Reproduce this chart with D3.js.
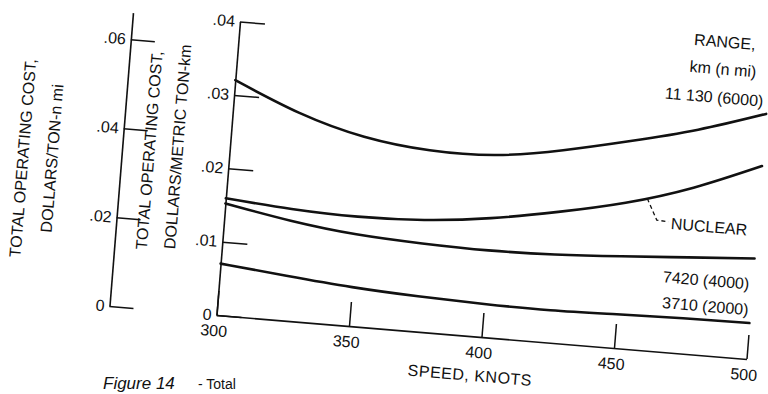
<!DOCTYPE html>
<html>
<head>
<meta charset="utf-8">
<script src="https://cdn.jsdelivr.net/npm/d3@7"></script>
<style>
  body { margin: 0; background: #fff; }
  text { font-family: "Liberation Sans", Arial, sans-serif; fill: #111; }
</style>
</head>
<body>
<div id="plot"></div>
<script>
// values (speed in knots, cost in dollars / metric ton-km)
const speeds = [300, 325, 350, 375, 400, 425, 450, 475, 500];
const range6000 = [0.0320, 0.0283, 0.0258, 0.0247, 0.0248, 0.0262, 0.0282, 0.0305, 0.0334];
const nuclear   = [0.0159, 0.0152, 0.0149, 0.0152, 0.0162, 0.0178, 0.0198, 0.0226, 0.0263];
const range4000 = [0.0152, 0.0136, 0.0125, 0.0120, 0.0118, 0.0120, 0.0125, 0.0131, 0.0137];
const range2000 = [0.0070, 0.0061, 0.0053, 0.0048, 0.0045, 0.0044, 0.0046, 0.0048, 0.0049];

const speedTicks = [300, 350, 400, 450, 500];
const costTicks = [0, 0.01, 0.02, 0.03, 0.04];
const tonNmiTicks = [0, 0.02, 0.04, 0.06];
const tonNmiMax = 0.066; // where the ton-n mi scale sits against the metric one

// curve labels: [text, speed, cost]
const curveLabels = [
  ["RANGE,", 482.4, 0.0427],
  ["km (n mi)", 482.5, 0.0390],
  ["11 130 (6000)", 480.0, 0.0351],
  ["NUCLEAR", 482.0, 0.0175],
  ["7420 (4000)", 482.5, 0.0102],
  ["3710 (2000)", 483.0, 0.0067]
];
const leader = [[458, 0.0206], [462.2, 0.0178], [466.6, 0.0177]];

const width = 768, height = 394;
const plotW = 530, plotH = 293.5;

const svg = d3.select("#plot").append("svg")
  .attr("width", width)
  .attr("height", height);

// the scan is slightly rotated, so the figure sits in a tilted frame
const g = svg.append("g")
  .attr("transform", "matrix(1,0.083,-0.0801,1,216.5,315)");

const x = d3.scaleLinear().domain([300, 500]).range([0, plotW]);
const y = d3.scaleLinear().domain([0, 0.04]).range([0, -plotH]);
const yNmi = d3.scaleLinear().domain([0, tonNmiMax]).range([0, -plotH]);

const fmtCost = d => d === 0 ? "0" : d3.format(".2f")(d).replace(/^0/, "");

function styleAxis(sel) {
  sel.select(".domain").attr("stroke", "#111").attr("stroke-width", 1.6);
  sel.selectAll(".tick line").attr("stroke", "#111").attr("stroke-width", 1.5);
  sel.selectAll(".tick text")
    .attr("fill", "#111")
    .style("font-family", '"Liberation Sans", Arial, sans-serif')
    .style("font-size", "16px");
}

// x axis, ticks pointing up into the plot
g.append("g")
  .call(d3.axisBottom(x).tickValues(speedTicks).tickFormat(d3.format("d"))
    .tickSizeInner(-24).tickSizeOuter(0).tickPadding(10))
  .call(styleAxis)
  .selectAll(".tick text").attr("dx", "-2");

// main cost axis (metric ton-km)
g.append("g")
  .call(d3.axisLeft(y).tickValues(costTicks).tickFormat(fmtCost)
    .tickSizeInner(-25).tickSizeOuter(0).tickPadding(5))
  .call(styleAxis);

// secondary cost axis (ton-n mi)
g.append("g")
  .attr("transform", "translate(-107,0)")
  .call(d3.axisLeft(yNmi).tickValues(tonNmiTicks).tickFormat(fmtCost)
    .tickSizeInner(-24).tickSizeOuter(0).tickPadding(5))
  .call(styleAxis);

const line = d3.line()
  .x((d, i) => x(speeds[i]))
  .y(d => y(d))
  .curve(d3.curveNatural);

[range6000, nuclear, range4000, range2000].forEach(series => {
  g.append("path")
    .datum(series)
    .attr("d", line)
    .attr("fill", "none")
    .attr("stroke", "#111")
    .attr("stroke-width", 2.6)
    .attr("stroke-linecap", "round");
});

// dashed leader to NUCLEAR
g.append("path")
  .datum(leader)
  .attr("d", d3.line().x(d => x(d[0])).y(d => y(d[1])))
  .attr("fill", "none")
  .attr("stroke", "#111")
  .attr("stroke-width", 1.3)
  .attr("stroke-dasharray", "4,3");

g.selectAll(".clabel")
  .data(curveLabels)
  .enter().append("text")
  .attr("class", "clabel")
  .attr("x", d => x(d[1]))
  .attr("y", d => y(d[2]))
  .attr("dy", "0.35em")
  .attr("text-anchor", "middle")
  .style("font-size", "16px")
  .text(d => d[0]);

// axis titles
g.append("text")
  .attr("x", x(396.8))
  .attr("y", y(-0.0053))
  .attr("dy", "0.35em")
  .attr("text-anchor", "middle")
  .style("font-size", "16px")
  .style("letter-spacing", "0.5px")
  .text("SPEED, KNOTS");

const titles = [
  ["TOTAL OPERATING COST,", -205, -140],
  ["DOLLARS/TON-n mi", -176, -142],
  ["TOTAL OPERATING COST,", -80, -158],
  ["DOLLARS/METRIC TON-km", -52, -164]
];
g.selectAll(".ytitle")
  .data(titles)
  .enter().append("text")
  .attr("class", "ytitle")
  .attr("transform", d => `translate(${d[1]},${d[2]}) rotate(-90)`)
  .attr("dy", "0.35em")
  .attr("text-anchor", "middle")
  .style("font-size", "16px")
  .text(d => d[0]);

// caption at the foot of the scan, kept level so it stays inside the frame
svg.append("text")
  .attr("x", 103)
  .attr("y", 389)
  .style("font-size", "17px")
  .style("font-style", "italic")
  .text("Figure 14");
svg.append("text")
  .attr("x", 198)
  .attr("y", 389)
  .style("font-size", "14px")
  .text("- Total");
</script>
</body>
</html>
